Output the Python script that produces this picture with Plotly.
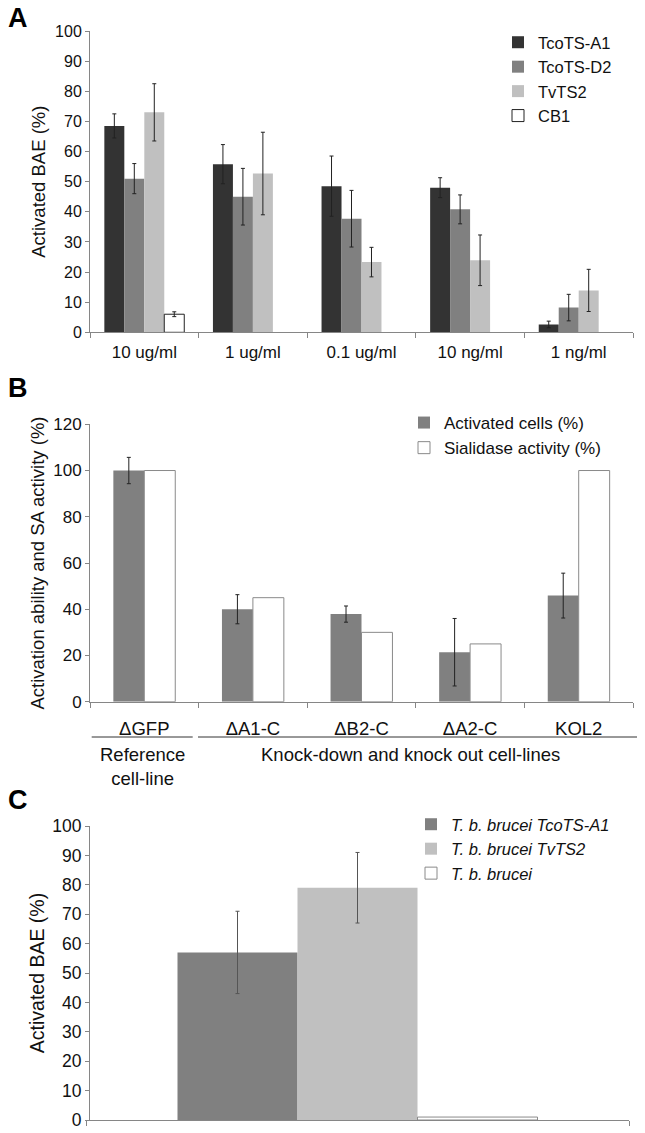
import plotly.graph_objects as go

# ---------------- data ----------------
# Panel A
concentrations = ["10 ug/ml", "1 ug/ml", "0.1 ug/ml", "10 ng/ml", "1 ng/ml"]
a_series = ["TcoTS-A1", "TcoTS-D2", "TvTS2", "CB1"]
a_tcots_a1 = [68.5, 55.8, 48.5, 48.0, 2.6]
a_tcots_a1_err = [4.0, 6.5, 10.0, 3.3, 1.1]
a_tcots_d2 = [51.0, 45.0, 37.7, 40.8, 8.2]
a_tcots_d2_err = [5.0, 9.4, 9.4, 4.8, 4.4]
a_tvts2 = [73.0, 52.7, 23.3, 23.9, 13.9]
a_tvts2_err = [9.5, 13.7, 4.9, 8.4, 7.0]
a_cb1 = [6.0, None, None, None, None]
a_cb1_err = [0.8, 0, 0, 0, 0]

# Panel B
cell_lines = ["ΔGFP", "ΔA1-C", "ΔB2-C", "ΔA2-C", "KOL2"]
b_activated = [100.0, 40.0, 37.9, 21.4, 45.9]
b_activated_err = [5.7, 6.3, 3.5, 14.6, 9.7]
b_sialidase = [100.0, 45.0, 30.0, 25.0, 100.0]

# Panel C
c_category = ["all"]
c_names = ["T. b. brucei TcoTS-A1", "T. b. brucei TvTS2", "T. b. brucei"]
c_values = [57.0, 79.0, 1.0]
c_errors = [14.0, 12.0, 0.0]

# ---------------- styling ----------------
FONT = "Liberation Sans, Arial, sans-serif"
AX = "#868686"
DARK = "#333333"
MID = "#808080"
LIGHT = "#c0c0c0"
W, H = 645, 1133

fig = go.Figure()

# Panel A bars (4 slots per category)
wa = 0.184
a_traces = [
    (a_series[0], a_tcots_a1, a_tcots_a1_err, DARK, DARK, 0),
    (a_series[1], a_tcots_d2, a_tcots_d2_err, MID, MID, 0),
    (a_series[2], a_tvts2, a_tvts2_err, LIGHT, LIGHT, 0),
    (a_series[3], a_cb1, a_cb1_err, "white", "#222222", 1),
]
for k, (name, vals, errs, col, lcol, lw) in enumerate(a_traces):
    fig.add_trace(go.Bar(
        x=concentrations, y=vals, name=name,
        width=wa, offset=-2 * wa + k * wa,
        marker=dict(color=col, line=dict(color=lcol, width=lw)),
        error_y=dict(type="data", array=errs, visible=True,
                     color="#222222", thickness=1, width=2),
        xaxis="x", yaxis="y", legend="legend",
    ))

# Panel B bars
wb = 0.285
fig.add_trace(go.Bar(
    x=cell_lines, y=b_activated, name="Activated cells (%)",
    width=wb, offset=-wb,
    marker=dict(color=MID, line=dict(width=0)),
    error_y=dict(type="data", array=b_activated_err, visible=True,
                 color="#222222", thickness=1, width=2),
    xaxis="x2", yaxis="y2", legend="legend2",
))
fig.add_trace(go.Bar(
    x=cell_lines, y=b_sialidase, name="Sialidase activity (%)",
    width=wb, offset=0,
    marker=dict(color="white", line=dict(color="#8a8a8a", width=1)),
    xaxis="x2", yaxis="y2", legend="legend2",
))

# Panel C bars
wc = 0.221
c_styles = [(MID, MID, 0), (LIGHT, LIGHT, 0), ("white", "#8a8a8a", 1)]
for k in range(3):
    col, lcol, lw = c_styles[k]
    fig.add_trace(go.Bar(
        x=c_category, y=[c_values[k]], name="<i>" + c_names[k] + "</i>",
        width=wc, offset=-1.5 * wc + k * wc,
        marker=dict(color=col, line=dict(color=lcol, width=lw)),
        error_y=dict(type="data", array=[c_errors[k]], visible=c_errors[k] > 0,
                     color="#555555", thickness=1, width=2),
        xaxis="x3", yaxis="y3", legend="legend3",
    ))

def yax(domain, rng, dtick, title, tsize, tfont, standoff):
    return dict(domain=domain, range=rng, dtick=dtick, showline=True, linecolor=AX,
                linewidth=1, ticks="outside", ticklen=4, tickcolor=AX, showgrid=False,
                zeroline=False, automargin=False, tickfont=dict(size=tfont, color="#111111"),
                title=dict(text=title, font=dict(size=tsize, color="#111111"), standoff=standoff),
                fixedrange=True)

def xax(domain, anchor, nc, showlabels, tfont, standoff):
    return dict(domain=domain, anchor=anchor, type="category", range=[-0.5, nc - 0.5],
                showline=True, linecolor=AX, linewidth=1, ticks="outside", ticklen=5,
                tickcolor=AX, tickson="boundaries", showgrid=False, zeroline=False,
                automargin=False,
                showticklabels=showlabels, tickfont=dict(size=tfont, color="#111111"),
                ticklabelstandoff=standoff, fixedrange=True)

def py(px):
    return 1 - px / H

fig.update_layout(
    template="none",
    width=W, height=H, barmode="overlay",
    margin=dict(l=0, r=0, t=0, b=0, pad=0, autoexpand=False),
    paper_bgcolor="white", plot_bgcolor="white",
    font=dict(family=FONT, color="#111111"),
    xaxis=xax([90 / W, 633 / W], "y", 5, True, 17, 4),
    yaxis=yax([py(332.3), py(31)], [0, 100], 10, "Activated BAE (%)", 18.5, 16, 4),
    xaxis2=xax([90 / W, 633 / W], "y2", 5, True, 18.5, 10),
    yaxis2=yax([py(701.7), py(424.3)], [0, 120], 20, "Activation ability and SA activity (%)", 18.5, 17, 3),
    xaxis3=xax([86 / W, 629 / W], "y3", 1, False, 17, 0),
    yaxis3=yax([py(1120), py(826)], [0, 100], 10, "Activated BAE (%)", 19.5, 17.5, 2),
    legend=dict(x=498 / W, y=py(25), xanchor="left", yanchor="top",
                font=dict(size=16.5), bgcolor="rgba(0,0,0,0)", traceorder="normal"),
    legend2=dict(x=404 / W, y=py(405), xanchor="left", yanchor="top",
                 font=dict(size=17), bgcolor="rgba(0,0,0,0)", traceorder="normal"),
    legend3=dict(x=411 / W, y=py(807), xanchor="left", yanchor="top",
                 font=dict(size=16.5), bgcolor="rgba(0,0,0,0)", traceorder="normal"),
    showlegend=True,
)

# Panel letters
for letter, ypx in [("A", 18), ("B", 388), ("C", 800)]:
    fig.add_annotation(text="<b>" + letter + "</b>", x=6 / W, y=py(ypx), xref="paper", yref="paper",
                       xanchor="left", yanchor="middle", showarrow=False,
                       font=dict(size=27, color="#000000"))

# Panel B grouping lines and labels
fig.add_shape(type="line", xref="paper", yref="paper", x0=91.7 / W, x1=192.7 / W,
              y0=py(737), y1=py(737), line=dict(color="#333333", width=1))
fig.add_shape(type="line", xref="paper", yref="paper", x0=198 / W, x1=637 / W,
              y0=py(737), y1=py(737), line=dict(color="#333333", width=1))
fig.add_annotation(text="Reference<br>cell-line", x=142.5 / W, y=py(742), xref="paper", yref="paper",
                   xanchor="center", yanchor="top", showarrow=False, align="center",
                   font=dict(size=18.5, color="#111111"))
fig.add_annotation(text="Knock-down and knock out cell-lines", x=410 / W, y=py(742),
                   xref="paper", yref="paper", xanchor="center", yanchor="top", showarrow=False,
                   font=dict(size=18.5, color="#111111"))

fig.write_html("out.html", config={"displayModeBar": False},
               post_script="document.body.style.margin='0';")
